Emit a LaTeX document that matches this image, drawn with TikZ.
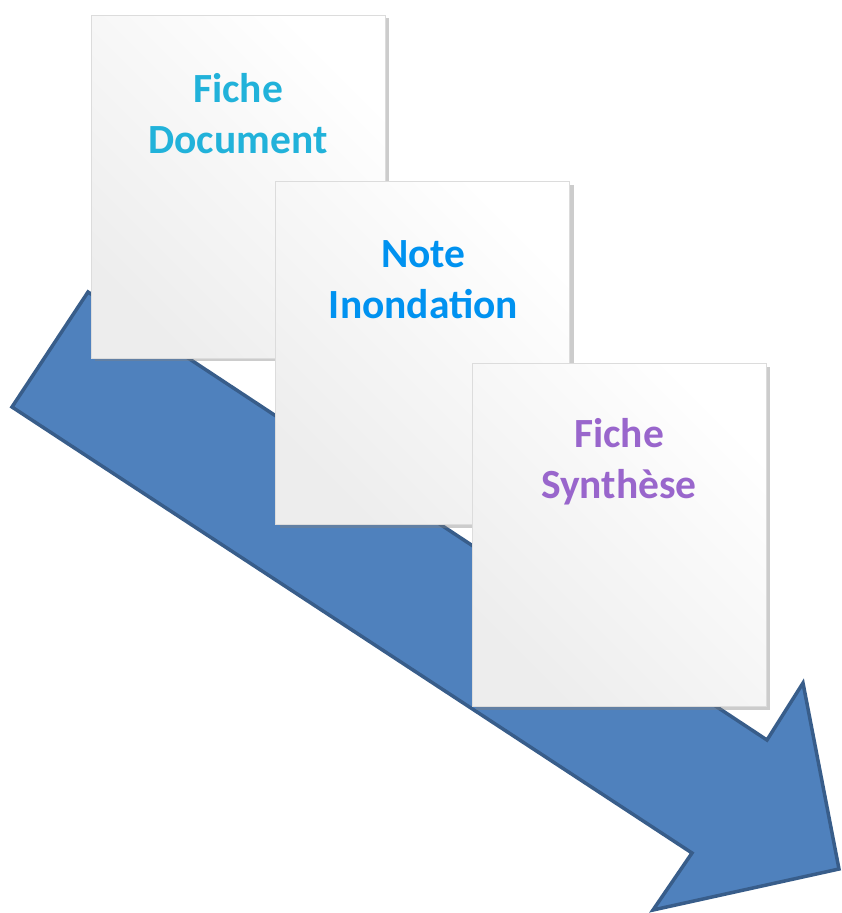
\documentclass[tikz,border=0pt]{standalone}
\usepackage{fontspec}
\setmainfont{Carlito}
\usetikzlibrary{shadows}
\definecolor{flowfill}{RGB}{79,129,189}
\definecolor{flowedge}{RGB}{56,93,138}
\definecolor{cardedge}{RGB}{220,220,220}
\definecolor{docblue}{RGB}{33,178,218}
\definecolor{noteblue}{RGB}{0,146,240}
\definecolor{synthpurple}{RGB}{153,102,204}

\begin{document}
\begin{tikzpicture}[x=1pt,y=-1pt,
  flow/.style={fill=flowfill,draw=flowedge,line width=3.5pt},
  card/.style={draw=cardedge,line width=0.6pt,top color=white,bottom color=black!7,shading angle=-45,
    minimum width=294pt,minimum height=343pt,inner sep=0pt,
    drop shadow={shadow xshift=4pt,shadow yshift=-3pt,opacity=0.4}},
  cardtext/.style={font=\bfseries\fontsize{41.5}{51}\selectfont,align=center}]
\useasboundingbox (0,0) rectangle (842,913);
\draw[flow] (88,292) -- (767,740) -- (803,683) -- (839,869) -- (653,910) -- (692,853) -- (12,407) -- cycle;
\node[card] (doc) at (238,186.5) {};
\node[cardtext,text=docblue] (docText) at (238,114) {Fiche\\Document};
\node[card] (note) at (422.5,353) {};
\node[cardtext,text=noteblue] (noteText) at (423.5,280) {Note\\Inondation};
\node[card] (synth) at (619,535) {};
\node[cardtext,text=synthpurple] (synthText) at (619,462) {Fiche\\Synthèse};
\end{tikzpicture}
\end{document}
